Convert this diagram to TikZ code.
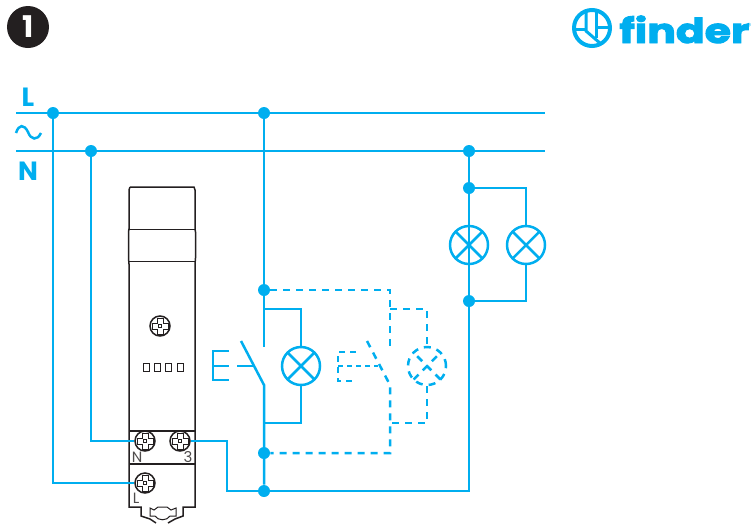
\documentclass[tikz,border=0pt]{standalone}
\usepackage{fontspec}
\setmainfont{Poppins}
\newfontfamily\logofont[BoldFeatures={FakeBold=2.6}]{Poppins}
\usetikzlibrary{calc}
\definecolor{wire}{RGB}{0,174,239}
\definecolor{ink}{RGB}{35,31,32}
\tikzset{
	wireline/.style={line width=0.5mm, color=wire},
	dashline/.style={line width=0.5mm, color=wire, dash pattern=on 1.4mm off 1.2mm},
	dot/.style={circle, fill=wire, inner sep=0pt, minimum size=2.4mm},
	lamp/.style={circle, draw=wire, line width=0.5mm, minimum size=7.6mm, inner sep=0pt,
		path picture={\draw[color=wire, line width=0.5mm, #1] (path picture bounding box.north west) -- (path picture bounding box.south east) (path picture bounding box.north east) -- (path picture bounding box.south west);}},
	lamp/.default={},
	screw/.style={circle, draw=ink, line width=0.3mm, fill=white, minimum size=4mm, inner sep=0pt,
		path picture={\draw[color=ink, line width=0.2mm] ($(path picture bounding box.center)+(-1.6mm,-0.6mm)$) -- ++(1mm,0) -- ++(0,-1mm) -- ++(1.2mm,0) -- ++(0,1mm) -- ++(1mm,0) -- ++(0,1.2mm) -- ++(-1mm,0) -- ++(0,1mm) -- ++(-1.2mm,0) -- ++(0,-1mm) -- ++(-1mm,0) -- cycle;
			\draw[color=ink, line width=0.2mm] ($(path picture bounding box.center)+(-0.3mm,-0.3mm)$) rectangle ++(0.6mm,0.6mm);}},
	body/.style={line width=0.3mm, color=ink},
	tag/.style={inner sep=0pt, color=ink!80, font=\fontsize{8.5}{8.5}\selectfont},
	rail/.style={inner sep=0pt, color=wire, font=\fontsize{15}{15}\selectfont\bfseries}
}
\begin{document}
\begin{tikzpicture}[x=0.2mm, y=-0.2mm]
	\useasboundingbox (0, 0) rectangle (752, 523);
	%%%%% BADGE AND LOGO %%%%%
	\node[circle, fill=ink, minimum size=8.4mm, inner sep=0pt, text=white, font=\fontsize{17}{17}\selectfont\bfseries] (badge) at (28, 27) {1};
	\draw[line width=0.8mm, color=wire] (592, 28) circle (18);
	\draw[line width=0.6mm, color=wire] (586, 10) -- (586, 31) -- (601, 44);
	\draw[line width=0.6mm, color=wire] (596, 10) -- (596, 38);
	\draw[line width=0.6mm, color=wire] (596, 27) -- (610, 27);
	\draw[line width=0.6mm, color=wire] (574, 29) -- (586, 29);
	\node[inner sep=0pt, anchor=base west, color=wire, font=\logofont\fontsize{19.5}{19.5}\selectfont\bfseries, xscale=1.24] (logo) at (619, 43) {finder};
	\node[inner sep=0pt, color=wire, font=\fontsize{5}{5}\selectfont] (reg) at (749, 26) {®};
	%%%%% RAILS %%%%%
	\node[rail] (railL) at (28, 97) {L};
	\node[rail] (railN) at (28, 171) {N};
	\coordinate (startL) at (16, 113);
	\coordinate (endL) at (545, 113);
	\coordinate (startN) at (16, 151);
	\coordinate (endN) at (545, 151);
	\draw[wireline] (startL) -- (endL);
	\draw[wireline] (startN) -- (endN);
	\draw[wireline] (16, 133) .. controls (19, 124) and (24, 124) .. (28, 132) .. controls (31, 140) and (37, 141) .. (41, 133);
	\node[dot] (dotA) at (53, 113) {};
	\node[dot] (dotB) at (91, 151) {};
	\node[dot] (dotC) at (264, 113) {};
	\node[dot] (dotD) at (469, 151) {};
	\node[dot] (dotE) at (469, 188) {};
	\node[dot] (dotF) at (469, 301) {};
	\node[dot] (dotG) at (264, 290) {};
	\node[dot] (dotH) at (264, 453) {};
	\node[dot] (dotI) at (264, 491) {};
	%%%%% DEVICE %%%%%
	\draw[body] (130, 187) -- (194, 187) -- (195, 190) -- (195, 229) -- (195.5, 232) -- (195.5, 258) -- (195, 264) -- (195, 507) -- (183, 507) -- (183, 516) -- (175, 519) -- (168, 523);
	\draw[body] (130, 187) -- (129, 190) -- (129, 229) -- (128.5, 232) -- (128.5, 258) -- (129, 264) -- (129, 507) -- (141, 507) -- (141, 516) -- (150, 519) -- (156, 523);
	\draw[body, line width=0.2mm] (129, 229) -- (195, 229);
	\draw[body, line width=0.2mm] (129, 261) -- (195, 261);
	\draw[body] (129, 431) -- (195, 431);
	\draw[body] (129, 464) -- (195, 464);
	\draw[body, line width=0.2mm] (150, 508) -- (150, 516) -- (155, 516) .. controls (158, 521) and (167, 521) .. (170, 516) -- (176, 516) -- (176, 508) -- (171, 510) -- (167, 507) -- (158, 507) -- (154, 510) -- cycle;
	\node[screw] (screwTop) at (160, 326) {};
	\foreach \x in {146, 157, 168, 180}
		\draw[body, line width=0.2mm] (\x-3, 363) rectangle (\x+3, 371);
	\node[screw] (termN) at (145, 441) {};
	\node[screw] (termT) at (180, 441) {};
	\node[screw] (termL) at (145, 483) {};
	\node[tag] (tagN) at (137, 457) {N};
	\node[tag] (tagT) at (188, 457) {3};
	\node[tag] (tagL) at (136, 498) {L};
	%%%%% WIRING %%%%%
	\draw[wireline] (dotA) |- (termL);
	\draw[wireline] (dotB) |- (termN);
	\draw[wireline] (termT) -| (227, 491) -- (dotI);
	\draw[wireline] (dotI) -| (dotD);
	\draw[wireline] (dotD) -- (dotE);
	%%%%% SOLID SWITCH %%%%%
	\coordinate (pivotA) at (264, 385);
	\coordinate (tipA) at (241, 341);
	\coordinate (openA) at (264, 347);
	\node[lamp] (lampA) at (301, 366) {};
	\draw[wireline] (dotC) -- (openA);
	\draw[wireline] (tipA) -- (pivotA) -- (dotI);
	\draw[wireline] (264, 309) -| (lampA);
	\draw[wireline] (lampA) |- (264, 423);
	\draw[wireline] (229, 351) -- (213, 351) -- (213, 380) -- (229, 380);
	\draw[wireline] (213, 366) -- (229, 366);
	\draw[wireline] (237, 366) -- (254, 366);
	%%%%% DASHED SWITCH %%%%%
	\coordinate (pivotB) at (390, 385);
	\coordinate (tipB) at (367, 341);
	\coordinate (openB) at (390, 347);
	\node[lamp=dashline, dash pattern=on 1.4mm off 1.2mm] (lampB) at (427, 366) {};
	\draw[dashline] (dotG) -| (openB);
	\draw[dashline] (tipB) -- (pivotB) |- (dotH);
	\draw[dashline] (390, 309) -| (lampB);
	\draw[dashline] (lampB) |- (390, 423);
	\draw[dashline, dash pattern=on 1.2mm off 1mm] (356, 352) -- (338, 352) -- (338, 381) -- (356, 381);
	\draw[dashline, dash pattern=on 1mm off 0.8mm] (338, 366) -- (378, 366);
	%%%%% LAMPS %%%%%
	\node[lamp] (lampC) at (469, 245) {};
	\node[lamp] (lampD) at (526, 245) {};
	\draw[wireline] (dotE) -- (lampC);
	\draw[wireline] (lampC) -- (dotF);
	\draw[wireline] (dotF) -- (469, 491);
	\draw[wireline] (dotE) -| (lampD);
	\draw[wireline] (lampD) |- (dotF);
\end{tikzpicture}
\end{document}
